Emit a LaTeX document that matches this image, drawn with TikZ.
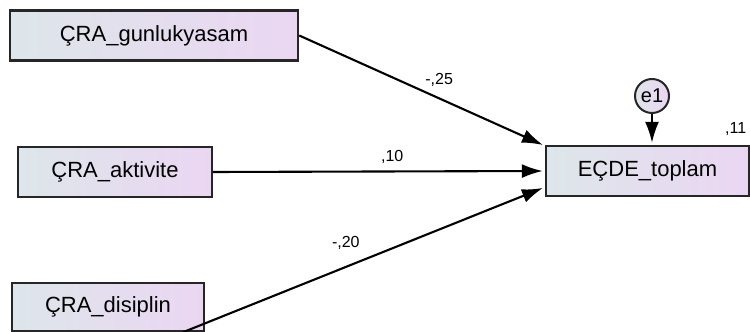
\documentclass[tikz,border=0pt]{standalone}
\usepackage{fontspec}
\setmainfont{Liberation Sans}
\usetikzlibrary{arrows.meta,positioning}
\definecolor{boxleft}{RGB}{221,230,234}
\definecolor{boxright}{RGB}{235,214,242}

\begin{document}
\begin{tikzpicture}[->, >={Latex[length=21pt,width=14pt]}, shorten >=2pt, x=1pt, y=1pt, line width=2.1pt] %, auto
  \tikzstyle{var}=[draw=black!85, line width=2.4pt, rectangle, left color=boxleft, right color=boxright, minimum height=50pt, inner sep=0pt, font=\fontsize{22}{26}\selectfont]
  \tikzstyle{err}=[draw=black!85, line width=2pt, circle, left color=boxleft, right color=boxright, minimum size=34pt, inner sep=0pt, font=\fontsize{20}{24}\selectfont]
  \tikzstyle{coef}=[inner sep=0pt, font=\fontsize{16}{19}\selectfont]
  \useasboundingbox (0,0) rectangle (750,332);
  \node[var, minimum width=288pt] (G) at (154,296.5) {ÇRA\_gunlukyasam};
  \node[var, minimum width=194pt] (A) at (115,160)   {ÇRA\_aktivite};
  \node[var, minimum width=192pt, minimum height=48pt] (C) at (108,25) {ÇRA\_disiplin};
  \node[var, minimum width=203pt] (D) at (647.5,161) {EÇDE\_toplam};
  \node[err]                      (E) at (652,236)   {e1};
  \node[coef] (R) [above left=8pt and 3pt of D.north east] {,11};

  \path (G.east)               edge node [coef, pos=0.57, above=11pt] {-,25} ([yshift=-1pt]D.north west)
        (A.east)               edge node [coef, pos=0.54, above=7pt]  {,10}  (D.west)
        ([xshift=75pt]C.south) edge node [coef, pos=0.45, above=16pt] {-,20} ([yshift=10pt]D.south west)
        (E)                    edge                                          (E |- D.north);
\end{tikzpicture}
\end{document}
